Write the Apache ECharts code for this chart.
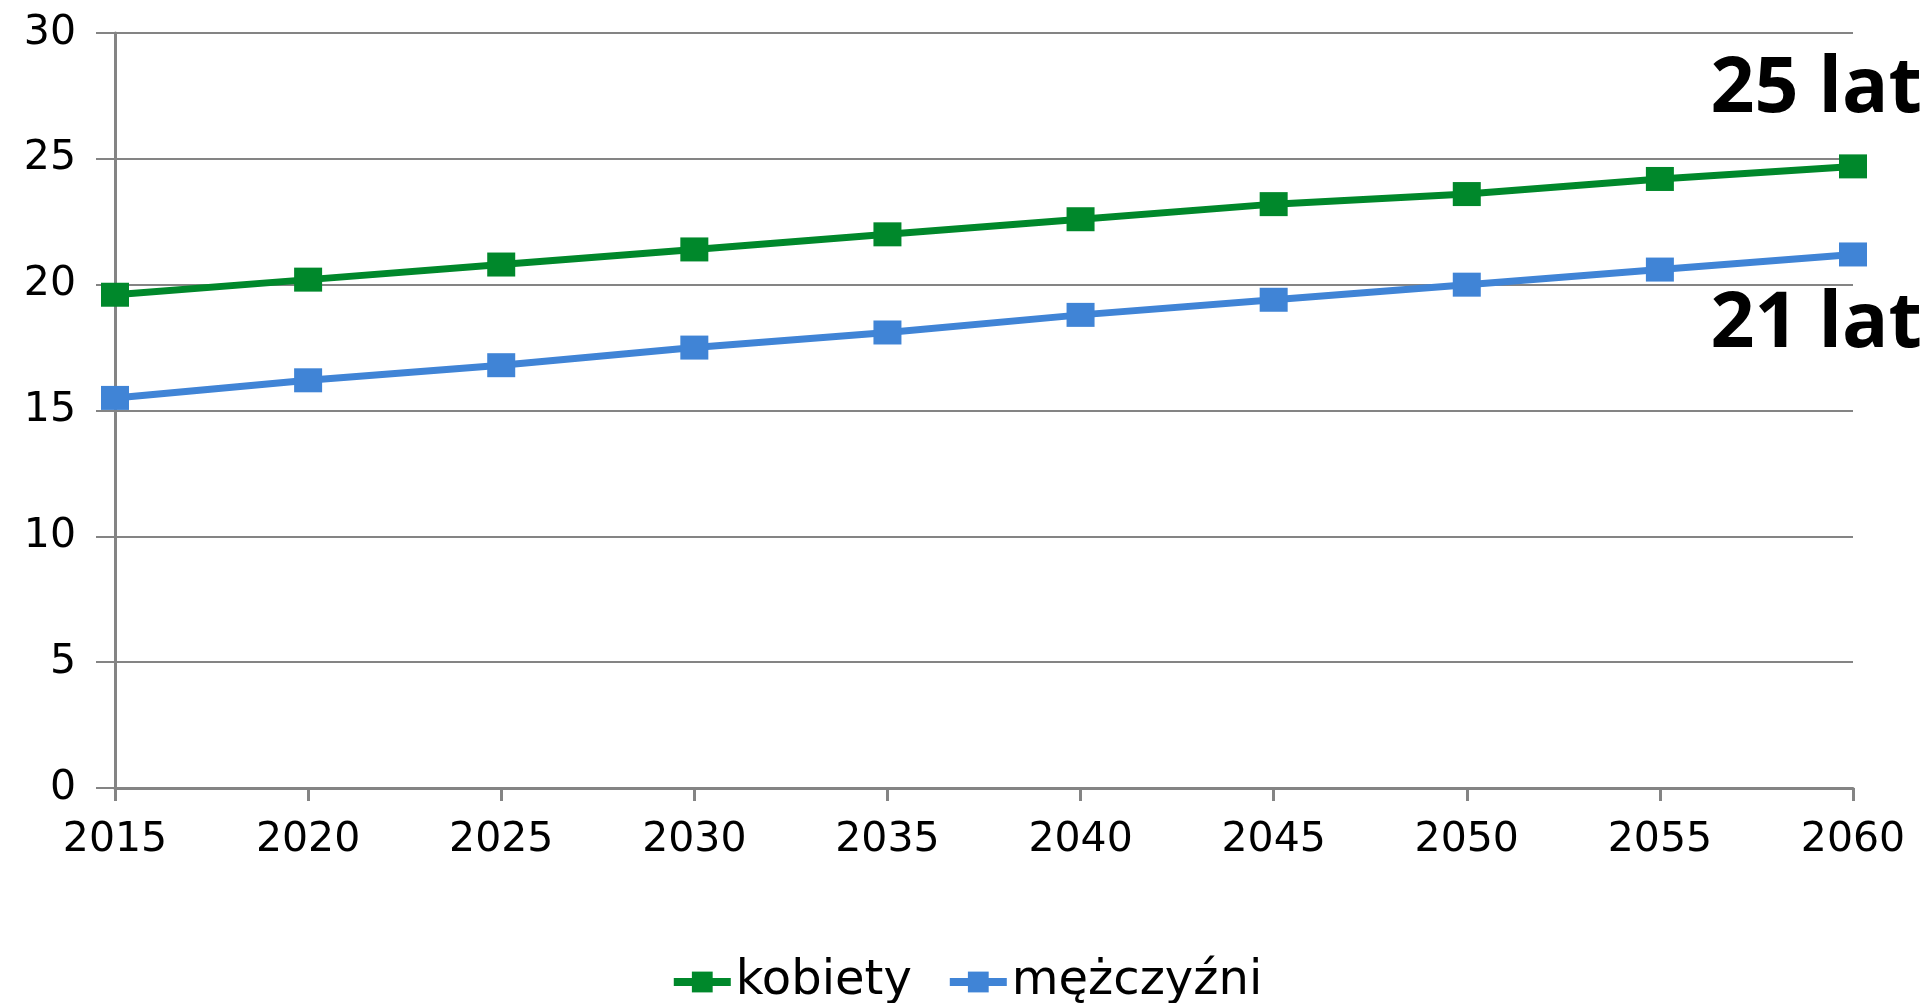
<!DOCTYPE html>
<html>
<head>
<meta charset="utf-8">
<script src="https://cdn.jsdelivr.net/npm/echarts@6/dist/echarts.min.js"></script>
<style>
html,body{margin:0;padding:0;background:#fff;}
#chart{width:1932px;height:1003px;}
</style>
</head>
<body>
<div id="chart"></div>
<script>
const years = ['2015','2020','2025','2030','2035','2040','2045','2050','2055','2060'];
const kobiety = [19.6, 20.2, 20.8, 21.4, 22.0, 22.6, 23.2, 23.6, 24.2, 24.7];
const mezczyzni = [15.5, 16.2, 16.8, 17.5, 18.1, 18.8, 19.4, 20.0, 20.6, 21.2];
const seriesNames = ['kobiety', 'mężczyźni'];
const endNotes = ['25 lat', '21 lat'];
const yTicks = { min: 0, max: 30, interval: 5 };

const GREEN = '#00882B';
const BLUE = '#4084D6';
const AXIS = '#848484';

const chart = echarts.init(document.getElementById('chart'), null, {renderer: 'canvas'});
chart.setOption({
  animation: false,
  backgroundColor: '#ffffff',
  grid: { left: 115, right: 79, top: 33, bottom: 215, containLabel: false },
  xAxis: {
    type: 'category',
    data: years,
    boundaryGap: false,
    axisLine: { show: true, lineStyle: { color: AXIS, width: 3 } },
    axisTick: { show: true, length: 13, lineStyle: { color: AXIS, width: 3 } },
    axisLabel: { color: '#000', fontFamily: 'DejaVu Sans', fontSize: 41, margin: 32 },
    splitLine: { show: false }
  },
  yAxis: {
    type: 'value',
    min: yTicks.min, max: yTicks.max, interval: yTicks.interval,
    axisLine: { show: true, lineStyle: { color: AXIS, width: 3 } },
    axisTick: { show: true, length: 19, lineStyle: { color: AXIS, width: 2 } },
    axisLabel: { color: '#000', fontFamily: 'DejaVu Sans', fontSize: 41, margin: 39 },
    splitLine: { show: true, lineStyle: { color: AXIS, width: 2 } }
  },
  legend: {
    data: seriesNames,
    left: 'center',
    top: 953,
    itemWidth: 57,
    itemHeight: 26,
    itemGap: 34,
    lineStyle: { width: 8 },
    textStyle: { color: '#000', fontFamily: 'DejaVu Sans', fontSize: 48 }
  },
  series: [
    {
      name: seriesNames[0], type: 'line', data: kobiety,
      symbol: 'rect', symbolSize: [28, 24],
      itemStyle: { color: GREEN },
      lineStyle: { color: GREEN, width: 7 }
    },
    {
      name: seriesNames[1], type: 'line', data: mezczyzni,
      symbol: 'rect', symbolSize: [28, 24],
      itemStyle: { color: BLUE },
      lineStyle: { color: BLUE, width: 7 }
    }
  ],
  graphic: [
    { type: 'text', right: 10, top: 52, style: { text: endNotes[0], fontFamily: 'Open Sans', fontWeight: 'bold', fontSize: 77, fill: '#000' } },
    { type: 'text', right: 10, top: 287, style: { text: endNotes[1], fontFamily: 'Open Sans', fontWeight: 'bold', fontSize: 77, fill: '#000' } }
  ]
});
</script>
</body>
</html>
